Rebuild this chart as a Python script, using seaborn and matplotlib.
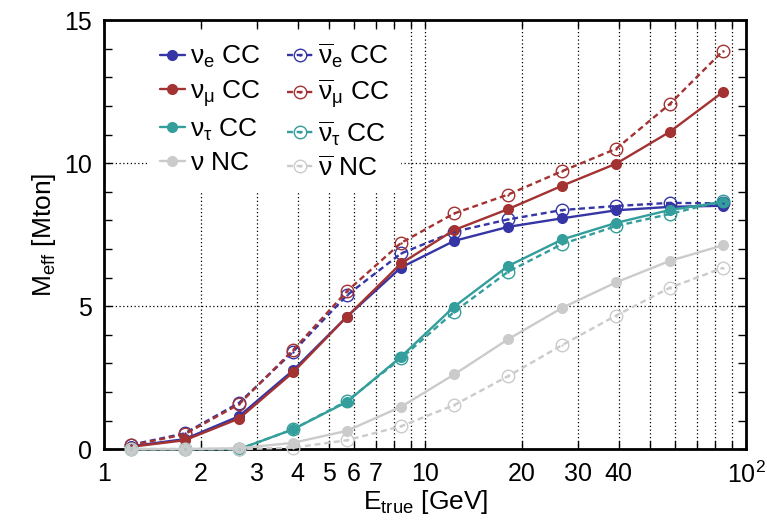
import numpy as np
import matplotlib
matplotlib.use("Agg")
import matplotlib.pyplot as plt
import seaborn as sns
from matplotlib.lines import Line2D
from matplotlib.ticker import FixedLocator, FixedFormatter, MultipleLocator

# true neutrino energy bin centres [GeV]
E_true = [1.21, 1.78, 2.63, 3.87, 5.70, 8.40, 12.3, 18.1, 26.7, 39.3, 57.7, 84.7]

# effective mass [Mton]
nue_cc = [0.10, 0.35, 1.15, 2.75, 4.63, 6.35, 7.28, 7.77, 8.07, 8.35, 8.47, 8.51]
nuebar_cc = [0.15, 0.55, 1.62, 3.40, 5.38, 6.84, 7.60, 8.03, 8.36, 8.50, 8.61, 8.59]
numu_cc = [0.08, 0.31, 1.07, 2.68, 4.63, 6.49, 7.66, 8.39, 9.21, 9.98, 11.09, 12.49]
numubar_cc = [0.13, 0.52, 1.57, 3.46, 5.52, 7.21, 8.24, 8.90, 9.72, 10.50, 12.06, 13.93]
nutau_cc = [0.0, 0.0, 0.0, 0.69, 1.65, 3.23, 4.98, 6.40, 7.33, 7.91, 8.36, 8.64]
nutaubar_cc = [0.0, 0.0, 0.0, 0.69, 1.68, 3.17, 4.80, 6.20, 7.17, 7.80, 8.22, 8.68]
nu_nc = [0.0, 0.0, 0.03, 0.22, 0.64, 1.48, 2.61, 3.84, 4.94, 5.83, 6.58, 7.13]
nubar_nc = [0.0, 0.0, 0.0, 0.05, 0.31, 0.80, 1.54, 2.55, 3.64, 4.67, 5.64, 6.34]

x_major = [1, 2, 3, 4, 5, 6, 7, 10, 20, 30, 40, 100]
x_major_labels = ["1", "2", "3", "4", "5", "6", "7", "10", "20", "30", "40", r"10$^2$"]
x_minor = [8, 9, 50, 60, 70, 80, 90]

blue = "#3535a5"
red = "#a33232"
teal = "#339e9b"
gray = "#cbcbcb"

sns.set_style("ticks")
plt.rcParams["font.family"] = ["Liberation Sans", "DejaVu Sans"]
plt.rcParams["mathtext.fontset"] = "custom"
plt.rcParams["mathtext.rm"] = "Liberation Sans"
plt.rcParams["mathtext.it"] = "Liberation Sans"
plt.rcParams["mathtext.bf"] = "Liberation Sans:bold"
plt.rcParams["text.color"] = "black"
plt.rcParams["axes.labelcolor"] = "black"
plt.rcParams["xtick.color"] = "black"
plt.rcParams["ytick.color"] = "black"

fig, ax = plt.subplots(figsize=(7.67, 5.29), dpi=100)
fig.subplots_adjust(left=0.136, right=0.973, bottom=0.151, top=0.962)

series = [
    (nue_cc, blue, "solid", r"$\nu_{e}$ CC"),
    (nuebar_cc, blue, "dash", r"$\overline{\nu}_{e}$ CC"),
    (numu_cc, red, "solid", r"$\nu_{\mu}$ CC"),
    (numubar_cc, red, "dash", r"$\overline{\nu}_{\mu}$ CC"),
    (nutau_cc, teal, "solid", r"$\nu_{\tau}$ CC"),
    (nutaubar_cc, teal, "dash", r"$\overline{\nu}_{\tau}$ CC"),
    (nu_nc, gray, "solid", r"$\nu$ NC"),
    (nubar_nc, gray, "dash", r"$\overline{\nu}$ NC"),
]

solid_handles, solid_labels = [], []
dash_handles, dash_labels = [], []
for vals, col, kind, lab in series:
    if kind == "solid":
        sns.lineplot(x=E_true, y=vals, ax=ax, color=col, lw=1.7, marker="o",
                     markersize=8, markeredgewidth=0, clip_on=False, zorder=3)
        solid_handles.append(Line2D([], [], color=col, lw=1.7, marker="o",
                                    markersize=8, markeredgewidth=0))
        solid_labels.append(lab)
    else:
        sns.lineplot(x=E_true, y=vals, ax=ax, color=col, lw=1.7, linestyle=(0, (2.5, 1.6)),
                     marker="o", markersize=9, markerfacecolor="none",
                     markeredgewidth=1.0, markeredgecolor=col, clip_on=False, zorder=3)
        ax.scatter(E_true, vals, s=3, color=col, clip_on=False, zorder=4, linewidths=0)
        h = (Line2D([], [], color=col, lw=1.7, linestyle=(0, (2.5, 1.6)), marker="o",
                    markersize=9, markerfacecolor="none", markeredgewidth=1.0),
             Line2D([], [], color=col, ls="none", marker="o", markersize=1.8,
                    markeredgewidth=0))
        dash_handles.append(h)
        dash_labels.append(lab)

ax.set_xscale("log")
ax.set_xlim(1, 100)
ax.set_ylim(0, 15)

ax.xaxis.set_major_locator(FixedLocator(x_major))
ax.xaxis.set_major_formatter(FixedFormatter(x_major_labels))
ax.xaxis.set_minor_locator(FixedLocator(x_minor))
ax.yaxis.set_major_locator(FixedLocator([0, 5, 10, 15]))
ax.yaxis.set_minor_locator(MultipleLocator(1))

ax.grid(True, which="both", axis="x", color="black", linestyle=(0, (1, 2)), lw=0.9)
ax.grid(True, which="major", axis="y", color="black", linestyle=(0, (1, 2)), lw=0.9)

ax.tick_params(axis="both", which="both", direction="in", top=True, right=True,
               labelsize=18, width=1.0, color="black", labelcolor="black")
ax.tick_params(axis="both", which="major", length=6, pad=9)
ax.tick_params(axis="both", which="minor", length=6)
ax.tick_params(axis="x", which="minor", labelbottom=False)

for sp in ax.spines.values():
    sp.set_visible(True)
    sp.set_linewidth(2.0)
    sp.set_color("black")

ax.set_xlabel(r"E$_{\mathregular{true}}$ [GeV]", fontsize=19, labelpad=0, color="black")
ax.set_ylabel(r"M$_{\mathregular{eff}}$ [Mton]", fontsize=19, labelpad=4, color="black")

leg = ax.legend(solid_handles + dash_handles, solid_labels + dash_labels, ncol=2,
                loc="upper left", bbox_to_anchor=(0.07, 0.975), fontsize=19,
                handlelength=0.95, handletextpad=0.2, columnspacing=1.0,
                labelspacing=0.3, frameon=True, fancybox=False, borderaxespad=0,
                labelcolor="black")
leg.get_frame().set_facecolor("white")
leg.get_frame().set_edgecolor("white")
leg.get_frame().set_alpha(1)
leg.set_zorder(5)

fig.savefig("out.png", dpi=100)
